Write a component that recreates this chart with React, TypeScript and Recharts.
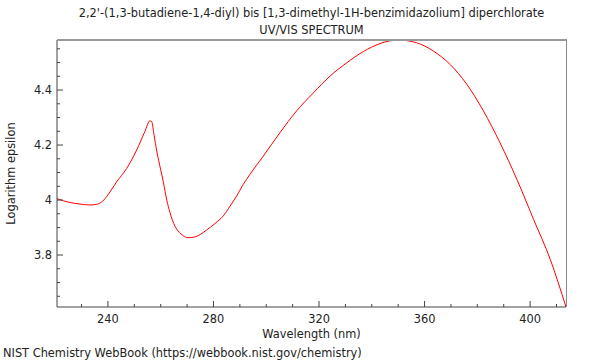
import { LineChart, Line, XAxis, YAxis } from 'recharts';

// wavelength (nm) and log epsilon
const wavelengths = [
  220.7, 225.6, 229, 233.2, 236, 237.5, 239.5, 241.5, 243.3, 247.1, 250.9, 254, 255.9, 256.6,
  257.5, 258.5, 260, 261, 262.3, 263.5, 265.4, 267.7, 270.4, 273, 277.4, 280.6, 283.7, 286.3,
  288.8, 291.3, 293.8, 298.9, 305.2, 311.5, 317.8, 324.2, 330.5, 336.8, 343.1, 350, 357, 363.3,
  369.7, 376, 382.3, 388.6, 395, 401.3, 407.6, 413.6,
];
const logEpsilon = [
  4.005, 3.991, 3.986, 3.982, 3.985, 3.992, 4.012, 4.04, 4.066, 4.115, 4.182, 4.249, 4.288, 4.285,
  4.235, 4.178, 4.11, 4.065, 4.0, 3.955, 3.905, 3.877, 3.863, 3.866, 3.891, 3.915, 3.942, 3.978,
  4.015, 4.057, 4.093, 4.16, 4.245, 4.324, 4.389, 4.451, 4.499, 4.54, 4.569, 4.582, 4.572, 4.542,
  4.493, 4.421, 4.324, 4.208, 4.075, 3.93, 3.785, 3.611,
];

const xTicks = [230, 240, 250, 260, 270, 280, 290, 300, 310, 320, 330, 340, 350, 360, 370, 380, 390, 400, 410];
const yTicks = [3.65, 3.7, 3.75, 3.8, 3.85, 3.9, 3.95, 4.0, 4.05, 4.1, 4.15, 4.2, 4.25, 4.3, 4.35, 4.4, 4.45, 4.5, 4.55];

const data = wavelengths.map((w, i) => ({ wl: w, eps: logEpsilon[i] }));

const FONT = 'DejaVu Sans, sans-serif';
const FS = 11.4;
const TEXT = '#222';

function XTick(props: any) {
  const { x, y, payload } = props;
  const v = payload.value;
  const major = v % 40 === 0;
  const ay = y - 8;
  return (
    <g>
      <line x1={x} x2={x} y1={ay} y2={ay - (major ? 6 : 3)} stroke="#444" />
      {major && (
        <text x={x} y={y} dy="0.71em" textAnchor="middle" fontSize={FS} fontFamily={FONT} fill={TEXT}>
          {v}
        </text>
      )}
    </g>
  );
}

function YTick(props: any) {
  const { x, y, payload } = props;
  const v = payload.value;
  const major = Math.abs(v * 5 - Math.round(v * 5)) < 1e-6;
  const ax = x + 5;
  return (
    <g>
      <line x1={ax} x2={ax + (major ? 6 : 3)} y1={y} y2={y} stroke="#444" />
      {major && (
        <text x={x} y={y} dy="0.355em" textAnchor="end" fontSize={FS} fontFamily={FONT} fill={TEXT}>
          {v === 4 ? '4' : v.toFixed(1)}
        </text>
      )}
    </g>
  );
}

export default function App() {
  return (
    <div style={{ position: 'absolute', left: 0, top: 0, width: 600, height: 360, background: '#fff', fontFamily: FONT, color: TEXT }}>
      <div style={{ position: 'absolute', left: 0, width: 623, top: 6, fontSize: FS, lineHeight: '14px', textAlign: 'center', whiteSpace: 'nowrap' }}>
        2,2'-(1,3-butadiene-1,4-diyl) bis [1,3-dimethyl-1H-benzimidazolium] diperchlorate
      </div>
      <div style={{ position: 'absolute', left: 0, width: 623, top: 23, fontSize: FS, lineHeight: '14px', textAlign: 'center' }}>
        UV/VIS SPECTRUM
      </div>
      <LineChart width={600} height={360} data={data} margin={{ top: 40, right: 34, bottom: 0, left: 0 }}>
        <XAxis
          dataKey="wl"
          type="number"
          domain={[220.7, 413.6]}
          ticks={xTicks}
          interval={0}
          height={53}
          tickSize={0}
          tickMargin={8}
          tickLine={false}
          tick={<XTick />}
          axisLine={{ stroke: '#444' }}
          allowDataOverflow
          label={{ value: 'Wavelength (nm)', position: 'insideBottom', offset: 22, fontSize: FS, fontFamily: FONT, fill: TEXT }}
        />
        <YAxis
          type="number"
          domain={[3.611, 4.582]}
          ticks={yTicks}
          interval={0}
          width={57}
          tickSize={0}
          tickMargin={5}
          tickLine={false}
          tick={<YTick />}
          axisLine={{ stroke: '#444' }}
          allowDataOverflow
          label={{ value: 'Logarithm epsilon', angle: -90, position: 'insideLeft', offset: 11, fontSize: FS, fontFamily: FONT, fill: TEXT, style: { textAnchor: 'middle' } }}
        />
        <Line type="monotone" dataKey="eps" stroke="#ff0000" strokeWidth={1} dot={false} isAnimationActive={false} />
      </LineChart>
      <div
        style={{
          position: 'absolute', left: 57, top: 39, width: 510, height: 268, boxSizing: 'border-box',
          borderTop: '2px solid #9a9a9a', borderRight: '1px solid #888', pointerEvents: 'none',
        }}
      />
      <div style={{ position: 'absolute', left: 3, top: 346, fontSize: FS, lineHeight: '14px', whiteSpace: 'nowrap' }}>
        NIST Chemistry WebBook (https://webbook.nist.gov/chemistry)
      </div>
    </div>
  );
}
